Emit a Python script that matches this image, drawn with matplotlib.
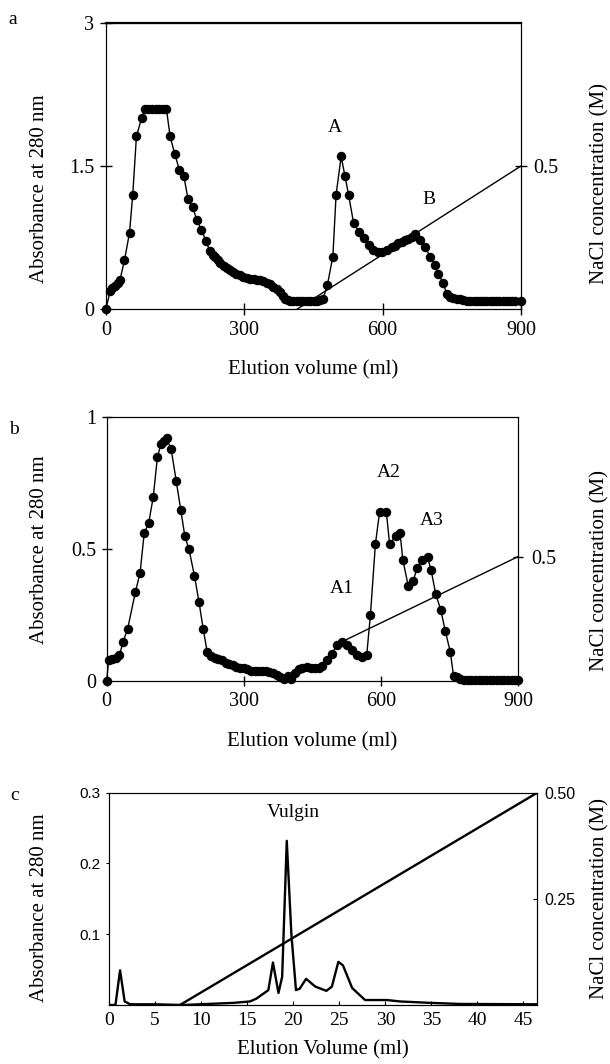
import matplotlib
matplotlib.use('Agg')
import matplotlib.pyplot as plt

plt.rcParams['font.family'] = ['Liberation Serif', 'DejaVu Serif']

W, H = 610, 1064

# ---- panel a : elution profile (ml, A280) ----
a_ml = [0, 9, 14, 19.5, 25, 30, 40, 51, 58, 66,
        77, 84, 92, 100, 108, 116, 124, 131, 139, 149,
        159, 169, 178, 188, 197, 207, 217, 225, 231, 236,
        242, 247, 255, 262, 269, 276, 283, 291, 298, 305,
        312, 320, 327, 334, 341, 349, 356, 363, 370, 377,
        383, 388, 394, 399, 406, 414, 421, 428, 435, 442,
        450, 457, 464, 471, 480, 492, 499, 510, 518, 526,
        537, 549, 559, 570, 580, 590, 598, 609, 620, 627,
        634, 641, 648, 655, 663, 670, 681, 692, 703, 713,
        721, 731, 739, 746, 753, 761, 768, 775, 782, 789,
        797, 804, 811, 818, 825, 832, 839, 846, 853, 860,
        867, 874, 881, 888, 900]
a_abs = [0, 0.19, 0.22, 0.24, 0.27, 0.30, 0.51, 0.80, 1.20, 1.81,
         2.00, 2.10, 2.10, 2.10, 2.10, 2.10, 2.10, 2.10, 1.81, 1.63,
         1.46, 1.39, 1.15, 1.07, 0.93, 0.83, 0.71, 0.61, 0.57, 0.55,
         0.51, 0.48, 0.45, 0.43, 0.41, 0.39, 0.37, 0.36, 0.34, 0.32,
         0.31, 0.31, 0.30, 0.30, 0.29, 0.275, 0.26, 0.235, 0.21, 0.18,
         0.14, 0.11, 0.09, 0.085, 0.08, 0.08, 0.08, 0.08, 0.08, 0.08,
         0.08, 0.08, 0.09, 0.11, 0.25, 0.55, 1.20, 1.60, 1.40, 1.20,
         0.90, 0.81, 0.74, 0.67, 0.62, 0.60, 0.60, 0.62, 0.65, 0.66,
         0.69, 0.70, 0.72, 0.73, 0.76, 0.79, 0.72, 0.65, 0.55, 0.46,
         0.37, 0.27, 0.16, 0.13, 0.12, 0.11, 0.10, 0.09, 0.085, 0.08,
         0.08, 0.08, 0.08, 0.08, 0.08, 0.08, 0.08, 0.08, 0.08, 0.08,
         0.08, 0.08, 0.08, 0.08, 0.08]
salt_a_ml = [415, 900]
salt_a = [0, 0.5]

# ---- panel b ----
b_ml = [0, 4, 12, 20, 28, 36, 46, 63, 73, 82,
        92, 102, 111, 119, 125, 131, 141, 152, 162, 171,
        180, 192, 202, 211, 220, 228, 236, 244, 252, 260,
        268, 276, 284, 292, 300, 308, 316, 324, 332, 340,
        348, 356, 364, 372, 380, 388, 396, 404, 412, 420,
        428, 438, 446, 456, 464, 471, 482, 493, 504, 514,
        525, 536, 547, 558, 569, 577, 588, 597, 612, 619,
        632, 642, 648, 660, 671, 679, 690, 702, 710, 720,
        731, 741, 752, 759, 766, 774, 782, 790, 798, 806,
        814, 822, 830, 838, 846, 854, 862, 870, 878, 886,
        894, 900]
b_abs = [0, 0.08, 0.085, 0.09, 0.10, 0.15, 0.20, 0.34, 0.41, 0.56,
         0.60, 0.70, 0.85, 0.90, 0.91, 0.92, 0.88, 0.76, 0.65, 0.55,
         0.50, 0.40, 0.30, 0.20, 0.11, 0.095, 0.09, 0.085, 0.08, 0.07,
         0.065, 0.06, 0.055, 0.05, 0.05, 0.045, 0.04, 0.04, 0.04, 0.04,
         0.04, 0.035, 0.03, 0.025, 0.015, 0.01, 0.02, 0.01, 0.03, 0.045,
         0.05, 0.055, 0.05, 0.05, 0.05, 0.058, 0.08, 0.105, 0.137, 0.15,
         0.137, 0.118, 0.10, 0.093, 0.10, 0.25, 0.52, 0.64, 0.64, 0.52,
         0.55, 0.56, 0.46, 0.36, 0.38, 0.43, 0.46, 0.47, 0.42, 0.33,
         0.27, 0.19, 0.11, 0.02, 0.015, 0.01, 0.005, 0.005, 0.005, 0.005,
         0.005, 0.005, 0.005, 0.005, 0.005, 0.005, 0.005, 0.005, 0.005, 0.005,
         0.005, 0.005]
salt_b_ml = [505, 900]
salt_b = [0.15, 0.5]

# ---- panel c ----
c_ml = [0, 0.7, 1.2, 1.7, 2.3, 5, 8, 13.5, 15.3, 16.0,
        17.3, 17.8, 18.4, 18.8, 19.3, 19.8, 20.3, 20.7, 21.4, 22.4,
        23.6, 24.2, 24.9, 25.4, 26.4, 27.8, 30.2, 31.6, 34.9, 38.1,
        46.5]
c_abs = [0, 0, 0.049, 0.005, 0.001, 0.001, 0, 0.003, 0.005, 0.009,
         0.021, 0.060, 0.017, 0.04, 0.232, 0.10, 0.021, 0.023, 0.037, 0.026,
         0.020, 0.026, 0.061, 0.056, 0.024, 0.007, 0.007, 0.005, 0.003, 0.0015,
         0.001]
salt_c_ml = [7.7, 46.5]
salt_c = [0, 0.5]


def rect(l, t, r, b):
    return [l / W, 1 - b / H, (r - l) / W, (b - t) / H]


def set_labels(ax, ax2, box, xlabel, xlab_y, ylab_y, rlab_y, size=15):
    l, t, r, b = box
    ax.set_xlabel(xlabel, fontsize=size)
    ax.xaxis.set_label_coords(0.5, -(xlab_y - b) / (b - t))
    ax.xaxis.label.set_va('center')
    ax.set_ylabel('Absorbance at 280 nm', fontsize=size)
    ax.yaxis.set_label_coords((40 - l) / (r - l), ylab_y)
    ax.yaxis.label.set(va='center', ha='center')
    ax2.set_ylabel('NaCl concentration (M)', fontsize=size, rotation=90)
    ax2.yaxis.set_label_coords((600 - l) / (r - l), rlab_y)
    ax2.yaxis.label.set(va='center', ha='center')


fig = plt.figure(figsize=(W / 100, H / 100), dpi=100)

# panel a
box_a = (106, 23, 521, 309)
ax = fig.add_axes(rect(*box_a))
ax.plot(a_ml, a_abs, 'k-o', lw=1, ms=5.8, clip_on=False, zorder=3)
ax.set_xlim(0, 900)
ax.set_ylim(0, 3)
ax.set_xticks([0, 300, 600, 900])
ax.set_yticks([0, 1.5, 3])
ax.set_yticklabels(['0', '1.5', '3'])
ax.tick_params(direction='inout', length=9, width=1, labelsize=14.5, pad=4)
ax.spines['top'].set_linewidth(1.6)
ax2 = ax.twinx()
ax2.plot(salt_a_ml, salt_a, 'k-', lw=1)
ax2.set_ylim(0, 1)
ax2.set_yticks([0.5])
ax2.set_yticklabels(['0.5'])
ax2.tick_params(direction='inout', length=9, width=1, labelsize=14.5, pad=4)
ax.text(497, 1.9, 'A', ha='center', va='center', fontsize=14)
ax.text(700, 1.15, 'B', ha='center', va='center', fontsize=14)
set_labels(ax, ax2, box_a, 'Elution volume (ml)', 370, 0.42, 0.44)
fig.text(13 / W, 1 - 20 / H, 'a', fontsize=14, ha='center', va='center')

# panel b
box_b = (106.7, 417.3, 518, 681.3)
bx = fig.add_axes(rect(*box_b))
bx.plot(b_ml, b_abs, 'k-o', lw=1, ms=5.8, clip_on=False, zorder=3)
bx.set_xlim(0, 900)
bx.set_ylim(0, 1)
bx.set_xticks([0, 300, 600, 900])
bx.set_yticks([0, 0.5, 1])
bx.set_yticklabels(['0', '0.5', '1'])
bx.tick_params(direction='inout', length=7, width=1, labelsize=14.5, pad=4)
bx2 = bx.twinx()
bx2.plot(salt_b_ml, salt_b, 'k-', lw=1)
bx2.set_ylim(0, 1.059)
bx2.set_yticks([0.5])
bx2.set_yticklabels(['0.5'])
bx2.tick_params(direction='inout', length=7, width=1, labelsize=14.5, pad=6)
bx.text(515, 0.35, 'A1', ha='center', va='center', fontsize=14)
bx.text(617, 0.79, 'A2', ha='center', va='center', fontsize=14)
bx.text(712, 0.61, 'A3', ha='center', va='center', fontsize=14)
set_labels(bx, bx2, box_b, 'Elution volume (ml)', 742, 0.5, 0.42)
fig.text(14 / W, 1 - 430 / H, 'b', fontsize=14, ha='center', va='center')

# panel c
box_c = (109, 792.7, 537.3, 1005)
cx = fig.add_axes(rect(*box_c))
cx.plot(c_ml, c_abs, 'k-', lw=1.7)
cx.set_xlim(0, 46.5)
cx.set_ylim(0, 0.3)
cx.set_xticks(range(0, 50, 5))
cx.set_yticks([0.1, 0.2, 0.3])
cx.set_yticklabels(['0.1', '0.2', '0.3'], family=['Liberation Sans', 'DejaVu Sans'])
cx.tick_params(axis='x', direction='in', length=3, labelsize=14, pad=5)
cx.tick_params(axis='y', direction='out', length=2, labelsize=11, pad=4)
cx.spines['top'].set_color('0.45')
cx.spines['top'].set_linewidth(0.8)
cx2 = cx.twinx()
cx2.plot(salt_c_ml, salt_c, 'k-', lw=1.7)
cx2.set_ylim(0, 0.5)
cx2.set_yticks([0.25, 0.5])
cx2.set_yticklabels(['0.25', '0.50'], family=['Liberation Sans', 'DejaVu Sans'])
cx2.tick_params(direction='in', length=3, labelsize=11.5, pad=5)
cx.text(20, 0.272, 'Vulgin', ha='center', va='center', fontsize=14)
set_labels(cx, cx2, box_c, 'Elution Volume (ml)', 1050, 0.46, 0.5)
fig.text(15 / W, 1 - 795 / H, 'c', fontsize=14, ha='center', va='center')

fig.savefig('out.png', dpi=100)
